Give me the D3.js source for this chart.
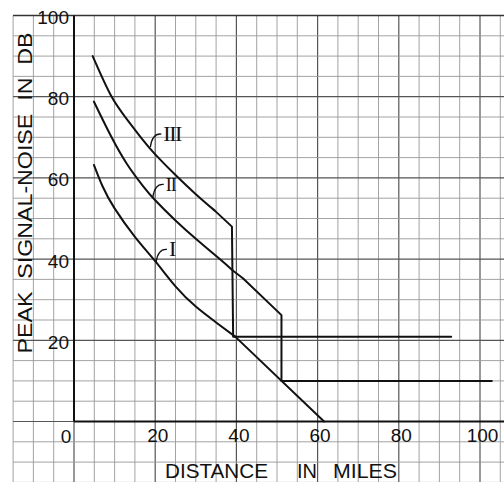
<!DOCTYPE html>
<html>
<head>
<meta charset="utf-8">
<script src="https://cdn.jsdelivr.net/npm/d3@7"></script>
<style>
  html, body { margin: 0; padding: 0; background: #fff; }
  svg { display: block; }
  .tick text { font-family: "Liberation Sans", Arial, sans-serif; font-size: 19px; fill: #111; }
</style>
</head>
<body>
<svg id="chart" width="504" height="482"></svg>
<script>
// values (distance in miles, peak S/N in dB)
const curveI = [[4.9, 63.2], [7, 58], [10, 52.5], [15, 45.5], [20, 39.5], [25, 33.3], [30, 28.3], [35, 24.4], [39.7, 20.9]];
const tailI = [[39.7, 20.9], [61.6, 0]];

const curveII = [[4.9, 78.8], [9, 70.5], [13, 63.5], [17, 58], [20, 54.5], [25, 49.5], [30, 45], [35.9, 40], [39.1, 37.2]];
const tailII = [[39.1, 37.2], [41.6, 35.3], [51.1, 26.2], [51.1, 10], [102.9, 10]];

const curveIII = [[4.6, 90], [9, 80.5], [13, 74.5], [17, 69.3], [20, 65.8], [25, 60.7], [30, 56], [34.6, 52]];
const tailIII = [[34.6, 52], [38.9, 48], [39.2, 20.9], [92.9, 20.9]];

const curveNames = ['I', 'II', 'III'];
const arrowTips = [[20.2, 39.2], [19.4, 55.2], [18.8, 67.6]];

const xTicks = [20, 40, 60, 80, 100];
const yTicks = [20, 40, 60, 80, 100];
const xTitle = ['DISTANCE', 'IN', 'MILES'];
const yTitle = 'PEAK  SIGNAL-NOISE  IN  DB';

const svg = d3.select('#chart');
const x = d3.scaleLinear().domain([0, 100]).range([74, 480]);
const y = d3.scaleLinear().domain([0, 100]).range([421.5, 15.5]);

// graph paper
const grid = svg.append('g').attr('class', 'grid');
const gx = d3.range(-15, 106, 5);
const gy = d3.range(-15, 101, 5);
grid.selectAll('line.v').data(gx).join('line')
  .attr('class', 'v')
  .attr('x1', d => x(d)).attr('x2', d => x(d))
  .attr('y1', y(100)).attr('y2', 482)
  .attr('stroke', d => d % 20 === 0 ? '#555' : '#999')
  .attr('stroke-width', d => d % 20 === 0 ? 1.2 : 0.9);
grid.selectAll('line.h').data(gy).join('line')
  .attr('class', 'h')
  .attr('y1', d => y(d)).attr('y2', d => y(d))
  .attr('x1', x(-15)).attr('x2', 504)
  .attr('stroke', d => d % 20 === 0 ? '#555' : '#999')
  .attr('stroke-width', d => d % 20 === 0 ? 1.2 : 0.9);

// top edge of the paper
svg.append('line')
  .attr('x1', x(-15)).attr('x2', 504)
  .attr('y1', y(100)).attr('y2', y(100))
  .attr('stroke', '#333').attr('stroke-width', 1.6);

// axes
svg.append('line')
  .attr('x1', x(0)).attr('x2', x(0)).attr('y1', y(100)).attr('y2', y(0))
  .attr('stroke', '#111').attr('stroke-width', 2);
svg.append('line')
  .attr('x1', x(0)).attr('x2', 504).attr('y1', y(0)).attr('y2', y(0))
  .attr('stroke', '#111').attr('stroke-width', 2);

const yAxis = svg.append('g')
  .attr('transform', `translate(${x(0)},2)`)
  .call(d3.axisLeft(y).tickValues(yTicks).tickSize(0).tickPadding(5));
yAxis.select('.domain').remove();

const xAxis = svg.append('g')
  .attr('transform', `translate(0,${y(0) + 1})`)
  .call(d3.axisBottom(x).tickValues(xTicks).tickSize(0).tickPadding(6));
xAxis.select('.domain').remove();
xAxis.selectAll('.tick text').attr('dx', 2);

svg.append('text')
  .attr('x', x(0) - 8).attr('y', y(0) + 21)
  .attr('text-anchor', 'middle')
  .style('font-family', '"Liberation Sans", Arial, sans-serif')
  .style('font-size', '19px').attr('fill', '#111')
  .text('0');

// axis titles
const titleX = [165, 297, 333];
const titleW = [103, 20, 64];
svg.selectAll('text.xt').data(xTitle).join('text')
  .attr('class', 'xt')
  .attr('x', (d, i) => titleX[i]).attr('y', 478)
  .attr('textLength', (d, i) => titleW[i])
  .attr('lengthAdjust', 'spacingAndGlyphs')
  .style('font-family', '"Liberation Sans", Arial, sans-serif')
  .style('font-size', '21px').attr('fill', '#111')
  .text(d => d);

svg.append('text')
  .attr('transform', `translate(32,193) rotate(-90)`)
  .attr('text-anchor', 'middle')
  .attr('textLength', 321)
  .attr('lengthAdjust', 'spacingAndGlyphs')
  .style('font-family', '"Liberation Sans", Arial, sans-serif')
  .style('font-size', '21px').attr('fill', '#111')
  .style('white-space', 'pre')
  .text(yTitle);

// curves
const smooth = d3.line().x(d => x(d[0])).y(d => y(d[1])).curve(d3.curveNatural);
const straight = d3.line().x(d => x(d[0])).y(d => y(d[1]));
const curves = [[curveI, tailI], [curveII, tailII], [curveIII, tailIII]];
const lines = svg.append('g').attr('fill', 'none').attr('stroke', '#111')
  .attr('stroke-width', 2).attr('stroke-linejoin', 'round').attr('stroke-linecap', 'round');
curves.forEach(([c, t]) => {
  lines.append('path').attr('d', smooth(c));
  lines.append('path').attr('d', straight(t));
});

// roman numeral labels with little leaders
const labelSize = [22, 18, 22];
const labelSpacing = [0, -1, -1.5];
const ann = svg.append('g');
curveNames.forEach((name, i) => {
  const [u, v] = arrowTips[i];
  const tx = x(u), ty = y(v);
  const sx = tx + 11, sy = ty - 13;
  ann.append('path')
    .attr('d', `M${sx},${sy} Q${tx + 2},${sy - 1} ${tx},${ty}`)
    .attr('fill', 'none').attr('stroke', '#111').attr('stroke-width', 1.3);
  ann.append('text')
    .attr('x', sx + 2).attr('y', sy + 7)
    .style('font-family', '"Liberation Serif", "DejaVu Serif", serif')
    .style('font-size', labelSize[i] + 'px')
    .style('letter-spacing', labelSpacing[i] + 'px')
    .attr('fill', '#111')
    .text(name);
});
</script>
</body>
</html>
